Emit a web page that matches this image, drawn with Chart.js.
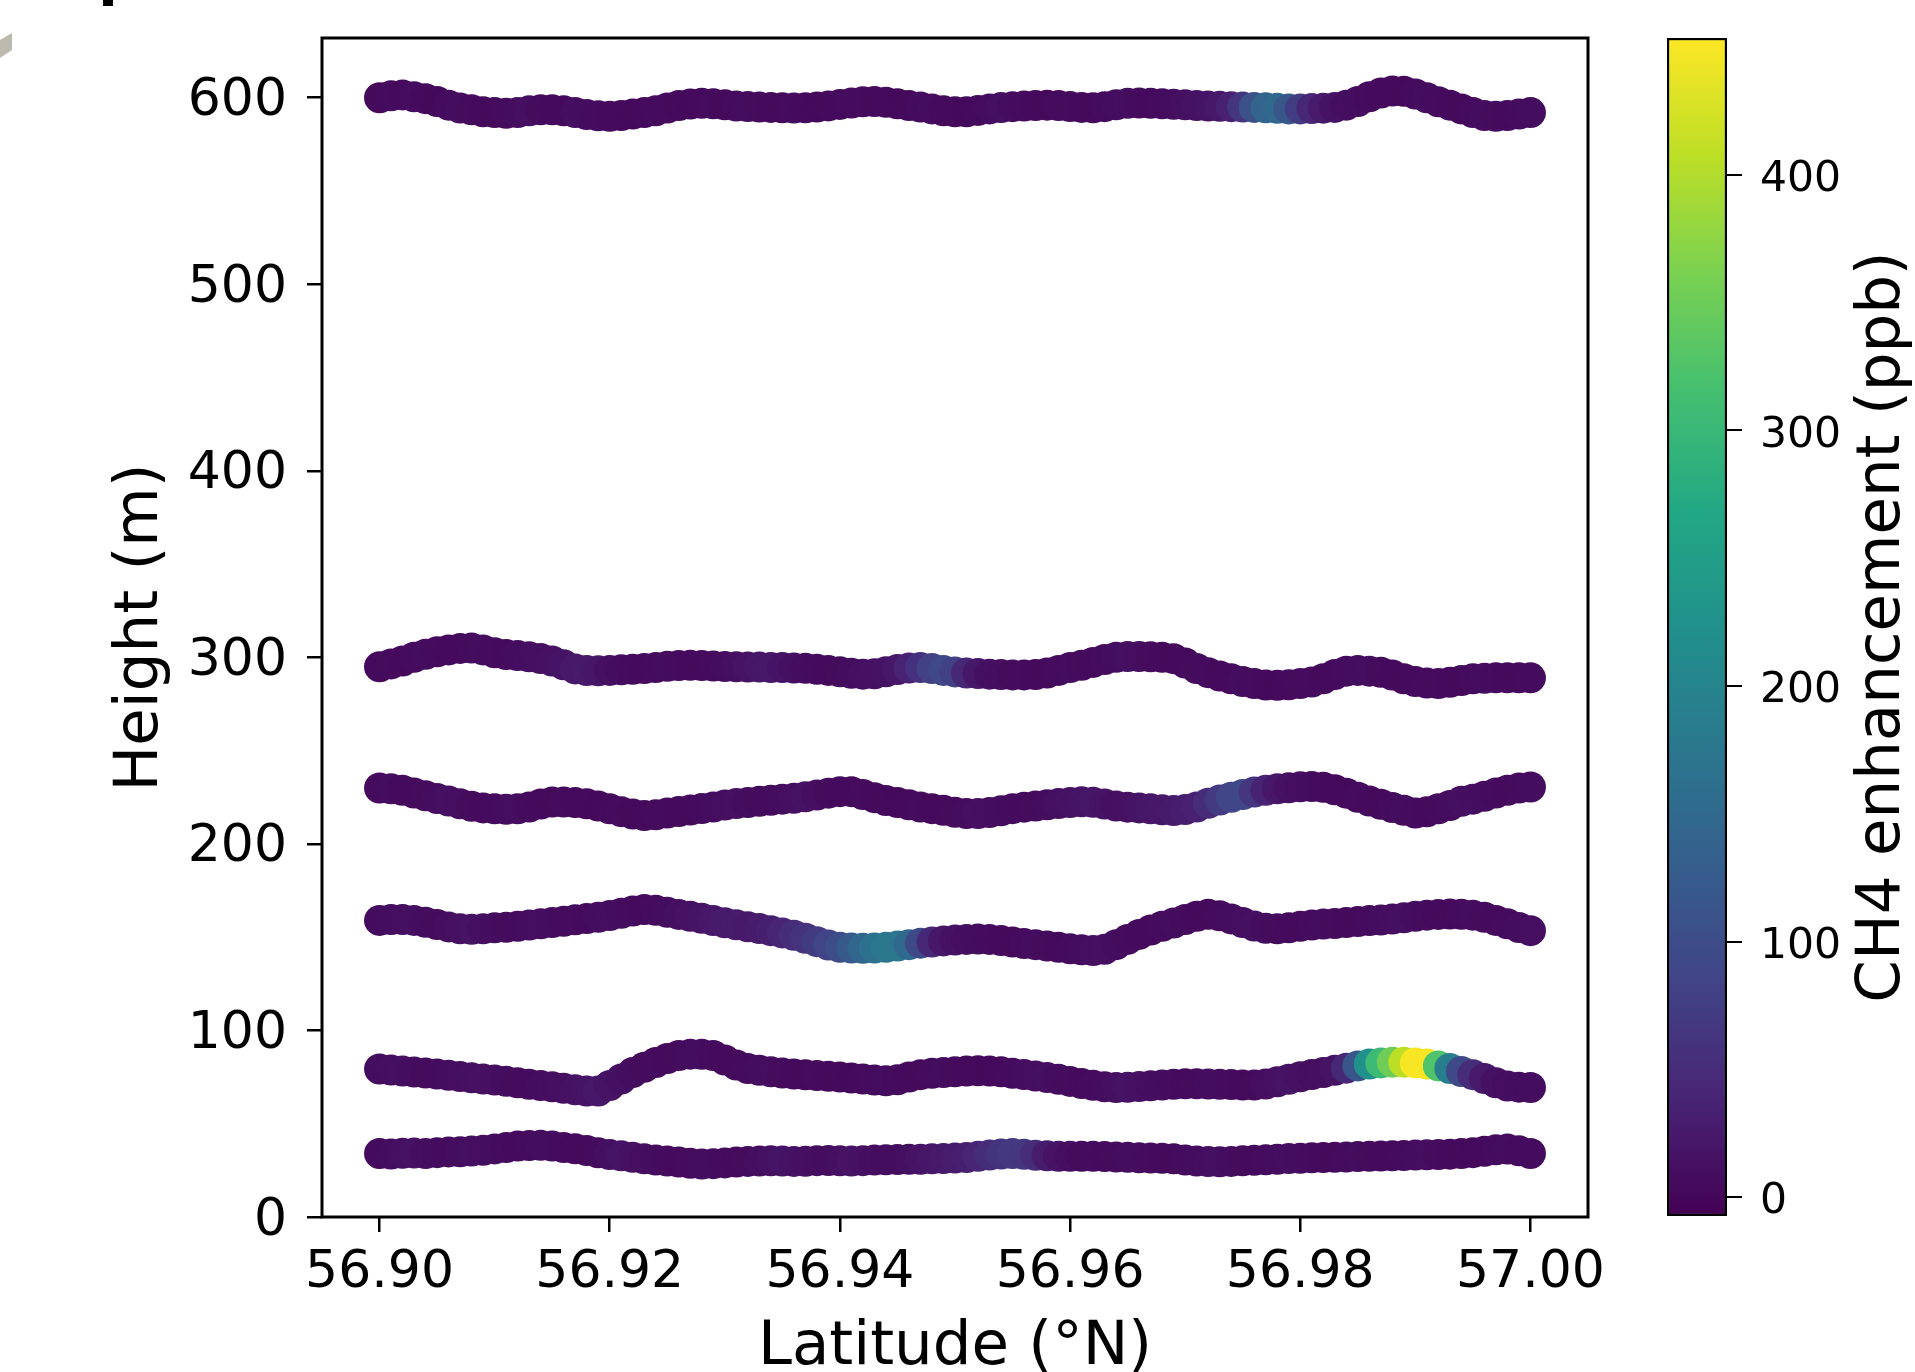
<!DOCTYPE html>
<html>
<head>
<meta charset="utf-8">
<script src="https://cdn.jsdelivr.net/npm/chart.js@4.4.0/dist/chart.umd.min.js"></script>
<style>
html,body{margin:0;padding:0;background:#fff;overflow:hidden}
#wrap{position:relative;width:1915px;height:1372px}
#main{position:absolute;left:0;top:0}
#cbar{position:absolute;left:1640px;top:0}
</style>
</head>
<body>
<div id="wrap">
<canvas id="main" width="1640" height="1372"></canvas>
<canvas id="cbar" width="275" height="1372"></canvas>
</div>
<script>
// sample latitudes along each flight leg (°N)
const lats = [56.900,56.901,56.902,56.903,56.904,56.905,56.906,56.907,56.908,56.909,
  56.910,56.911,56.912,56.913,56.914,56.915,56.916,56.917,56.918,56.919,
  56.920,56.921,56.922,56.923,56.924,56.925,56.926,56.927,56.928,56.929,
  56.930,56.931,56.932,56.933,56.934,56.935,56.936,56.937,56.938,56.939,
  56.940,56.941,56.942,56.943,56.944,56.945,56.946,56.947,56.948,56.949,
  56.950,56.951,56.952,56.953,56.954,56.955,56.956,56.957,56.958,56.959,
  56.960,56.961,56.962,56.963,56.964,56.965,56.966,56.967,56.968,56.969,
  56.970,56.971,56.972,56.973,56.974,56.975,56.976,56.977,56.978,56.979,
  56.980,56.981,56.982,56.983,56.984,56.985,56.986,56.987,56.988,56.989,
  56.990,56.991,56.992,56.993,56.994,56.995,56.996,56.997,56.998,56.999,57.000];

// heights (m)
const h600 = [600,601,601.5,600.5,599.5,598,596,594.5,593.5,592.5,
  592,591.7,592,593,593.5,593.5,593,592,591,590.3,
  590,590.5,591.3,592,593,594.5,595.8,596.6,597,596.8,
  596.2,595.5,595.3,595,594.8,594.6,594.5,594.6,595,595.6,
  596.4,597.2,597.8,598,597.6,596.8,595.8,595,594,593,
  592.5,592.5,593.2,594,594.7,595.2,595.5,595.8,596,595.8,
  595.3,594.8,594.6,595.2,596.2,597,597.2,597,596.8,596.5,
  596.2,595.8,595.5,595.4,595.2,595,594.8,594.6,594.3,594,
  594,594.2,594.4,594.8,596,598,600.5,602.5,603.6,603.5,
  602,600,597.8,596,594,592,590.5,590,590.5,591.3,592];
const h295 = [295,296.5,298,300,301.7,303,304,304.8,305,304,
  302.5,301.5,301,300.3,299.4,298,296,293.8,292.9,292.8,
  293,293.3,293.6,294,294.6,295.2,295.6,295.8,295.6,295.3,
  295.1,294.9,294.8,294.8,294.6,294.5,294.3,294.1,293.6,293,
  292.3,291.5,291,291.2,292.3,293.5,294.3,294.5,294,293,
  292.2,291.6,291.3,291,290.8,290.6,290.6,290.8,291.6,293,
  294.5,295.8,297.3,298.8,300,300.5,300.5,300.3,300,299.3,
  297,294,291.8,290,288.5,287,286,285.2,285,285.3,
  286,286.8,288.5,290.8,292.6,293,292.6,292,290.5,288.5,
  287,286.2,286,286.6,287.6,288.5,288.8,289,289,289,289];
const h225 = [230,229.5,228.7,227.3,225.8,224.3,223,221.5,220.2,219.3,
  218.8,218.6,218.8,219.8,221.4,222.4,222.5,222.2,221.5,220.3,
  218.8,217.3,216,215.2,215.6,216.5,217.4,218.2,219,219.8,
  220.8,221.6,222.2,222.8,223.4,224,224.5,225.3,226.2,227.2,
  228,228,226.5,224.8,223.3,222.2,221,219.8,218.9,218,
  217,216.3,216.3,216.8,217.8,218.9,219.7,220.3,221,221.6,
  222.2,222.6,222.3,221.4,220.3,219.7,219.3,218.8,218.3,217.9,
  218.4,219.8,221.8,223.5,225,226.5,227.8,228.7,229.5,230.1,
  230.6,230.8,230.4,229,227.2,225,223,221.2,219.5,218,
  216.6,217.2,218.8,220.6,222.8,224,225.5,227.3,228.8,230,230.5];
const h155 = [159,159.5,159.5,159,158,156.8,155.5,154.5,154.2,154.5,
  155,155.3,155.8,156.5,157.2,157.8,158.5,159.3,160,160.7,
  161.6,162.8,164,164.8,164.4,163.3,162.2,161.2,160.1,158.9,
  157.7,156.6,155.6,154.6,153.5,152.3,151,149.4,147.6,145.8,
  144.6,144.2,144,144.2,144.6,145.3,146,146.8,147.4,148,
  148.5,148.8,149,148.8,148.2,147.4,146.6,146,145.3,144.6,
  143.8,143.2,142.8,143.5,146,148.8,151.5,153.8,155.8,157.6,
  159.5,161.2,162.3,161.5,159.8,157.8,156,154.8,154.5,155,
  155.8,156.5,157,157.3,157.8,158.4,158.9,159.2,159.7,160.4,
  161.2,161.8,162.2,162.4,162.3,161.8,160.7,159,157.2,155.2,153.5];
const h75 = [79.3,78.8,78.3,77.7,77.2,76.6,76,75.3,74.6,74,
  73.4,72.8,72,71.2,70.5,69.8,69,68.2,67.5,67.5,
  70.5,74,77.5,80.3,82.8,85,86.6,87.3,87.2,86.6,
  84.2,81.5,79.6,78.6,77.8,77.2,76.6,76.2,75.8,75.4,
  75,74.5,74,73.4,73,73.6,75,76.3,77,77.5,
  77.9,78.2,78.4,78.3,77.8,77.1,76.4,75.6,74.8,73.8,
  72.7,71.6,70.6,69.8,69.4,69.5,69.9,70.4,70.8,71.2,
  71.4,71.4,71.3,71.1,71,70.8,70.8,71.3,72.5,73.8,
  75.2,76.4,77.5,78.6,79.8,81,82,82.6,83,83,
  82.6,82,81,79.6,78,76.3,74.2,72,70.2,69.6,69.4];
const h33 = [34,33.8,34.2,34.3,34,34.5,34.9,35,35.4,35.8,
  36.5,37.3,38,38.3,38.5,38,37.2,36.6,35.6,34.4,
  33.5,32.8,32,31.2,30.5,30,29.5,28.8,28.4,28.6,
  29,29.5,29.8,30,30.1,30,29.8,29.9,30.2,30.3,
  30.1,30,30.2,30.5,30.7,30.8,30.9,31,31.2,31.4,
  31.6,31.9,32.5,33.2,33.8,34,33.6,33.1,32.8,32.6,
  32.5,32.6,32.6,32.4,32.2,32,31.8,31.6,31.5,31.2,
  30.6,30,29.7,29.6,29.8,30.1,30.4,30.7,31,31.3,
  31.5,31.7,31.9,32,32.2,32.4,32.5,32.7,32.8,33,
  33.2,33.4,33.5,33.7,34,34.5,35.2,36,36.4,35.5,34];

// CH4 enhancement (ppb)
const c600 = [4,6,5,8,5,3,6,9,7,5, 4,6,8,12,7,5,4,10,8,6, 5,4,3,5,7,6,4,3,5,6,
  4,6,9,7,5,4,6,5,3,4, 5,7,6,4,5,3,4,6,8,5, 4,3,5,8,12,9,6,5,4,6,
  7,5,4,6,8,10,7,5,6,9, 12,15,18,22,35,65,105,140,150,115, 75,45,25,15,10,8,6,5,5,4,
  6,8,7,5,4,6,9,7,5,6,8];
const c295 = [5,7,4,6,9,6,5,4,7,8, 6,5,8,10,12,14,18,24,26,20, 12,8,6,5,7,9,6,5,4,6,
  8,12,16,20,22,18,12,8,6,5, 7,9,12,14,15,22,38,58,80,92, 80,45,22,12,10,7,6,5,4,6,
  8,7,5,6,9,12,10,7,5,4, 5,7,6,4,5,8,6,4,3,5, 7,6,4,5,6,8,10,7,5,4,
  5,6,7,5,4,6,8,6,5,4,6];
const c225 = [6,8,5,4,7,9,12,10,7,5, 6,8,10,7,5,4,6,5,4,3, 5,6,4,5,7,6,5,4,6,8,
  10,12,9,7,6,8,12,15,10,7, 5,4,6,5,4,3,5,6,4,5, 7,9,12,10,8,6,5,7,9,12,
  15,18,20,16,12,14,18,20,22,25, 30,35,50,70,88,90,65,38,22,14, 10,8,6,5,4,6,5,4,6,8,
  6,5,7,9,12,10,8,6,5,7,9];
const c155 = [6,8,10,12,9,7,10,14,16,12, 9,7,6,8,10,9,7,6,5,8, 10,8,6,5,7,9,12,15,18,22,
  25,28,24,28,32,40,50,60,72,85, 100,120,145,165,175,175,150,95,45,22, 14,10,8,6,5,4,6,8,7,5,
  6,8,10,12,9,7,5,4,6,8, 7,5,4,6,8,10,12,9,7,5, 4,6,8,7,5,4,6,8,10,12,
  9,7,5,4,6,8,7,5,6,8,10];
const c75 = [8,10,12,9,7,6,8,10,12,14, 11,9,7,6,8,10,12,15,18,22, 16,12,9,7,6,5,7,9,8,6,
  5,4,6,8,10,7,5,4,6,5, 4,3,5,6,8,7,5,4,6,8, 7,5,4,3,5,6,8,10,12,9,
  7,5,6,8,12,16,14,10,8,6, 5,7,9,8,6,5,7,10,14,18, 14,10,12,16,45,115,223,306,352,407,
  450,450,325,186,94,50,25,14,10,8,8];
const c33 = [6,9,12,15,10,8,6,9,12,10, 8,6,5,7,9,8,6,5,4,6, 12,18,14,10,8,6,5,7,9,8,
  6,5,7,10,14,18,15,12,10,8, 12,16,14,10,8,9,12,16,20,24, 28,32,40,52,62,68,66,50,28,16,
  10,7,6,5,7,9,8,6,5,4, 6,8,10,12,9,7,5,6,8,10, 8,6,5,4,6,8,7,5,4,6,
  8,10,7,5,4,3,5,6,8,7,6];

const legs = [
  {h: h600, c: c600},
  {h: h295, c: c295},
  {h: h225, c: c225},
  {h: h155, c: c155},
  {h: h75, c: c75},
  {h: h33, c: c33},
];

const CB_MIN = -7.4, CB_MAX = 453.6;
const cbTicks = [0, 100, 200, 300, 400];

const viridis = [[68,1,84],[72,36,117],[65,68,135],[53,95,141],[42,120,142],
  [33,145,140],[34,168,132],[68,191,112],[122,209,81],[189,223,38],[253,231,37]];

function cmap(v){
  let t = (v - CB_MIN) / (CB_MAX - CB_MIN);
  t = Math.max(0, Math.min(1, t)) * 10;
  const i = Math.min(9, Math.floor(t));
  const f = t - i;
  const a = viridis[i], b = viridis[i+1];
  const r = Math.round(a[0] + (b[0]-a[0])*f);
  const g = Math.round(a[1] + (b[1]-a[1])*f);
  const bl = Math.round(a[2] + (b[2]-a[2])*f);
  return 'rgb(' + r + ',' + g + ',' + bl + ')';
}

Chart.defaults.font.family = 'DejaVu Sans';
Chart.defaults.color = '#000';

// box round the axes, like matplotlib spines
const frame = {
  id: 'frame',
  afterDraw(chart){
    const {ctx, chartArea: a} = chart;
    ctx.save();
    ctx.strokeStyle = '#000';
    ctx.lineWidth = 3;
    ctx.strokeRect(a.left, a.top, a.right - a.left, a.bottom - a.top);
    // bits of the neighbouring panel cut off in the source picture
    ctx.fillStyle = '#bcb9ae';
    ctx.beginPath();
    ctx.moveTo(0, 40); ctx.lineTo(12, 33); ctx.lineTo(12, 50); ctx.lineTo(0, 58);
    ctx.closePath(); ctx.fill();
    ctx.fillStyle = '#000';
    ctx.fillRect(103, 0, 10, 6);
    ctx.restore();
  }
};

function noPad(s){ s.paddingTop = 0; s.paddingBottom = 0; s.paddingLeft = 0; s.paddingRight = 0; }

new Chart(document.getElementById('main'), {
  type: 'scatter',
  data: {
    datasets: legs.map(l => ({
      data: lats.map((x, i) => ({x: x, y: l.h[i]})),
      pointBackgroundColor: l.c.map(cmap),
      pointRadius: 15.5,
      pointHoverRadius: 15.5,
      pointBorderWidth: 0,
      borderWidth: 0,
    }))
  },
  options: {
    responsive: false,
    animation: false,
    devicePixelRatio: 1,
    events: [],
    layout: {padding: {left: 0, top: 38, right: 52, bottom: 0}},
    plugins: {legend: {display: false}, tooltip: {enabled: false}},
    scales: {
      x: {
        type: 'linear',
        min: 56.895,
        max: 57.005,
        afterFit: s => { s.height = 155; noPad(s); },
        ticks: {
          stepSize: 0.02,
          includeBounds: false,
          autoSkip: false,
          maxRotation: 0,
          padding: 10,
          font: {size: 52},
          callback: v => v.toFixed(2),
        },
        grid: {drawOnChartArea: false, drawTicks: true, tickLength: 15, color: '#000', lineWidth: 2.5},
        border: {display: false},
        title: {display: true, text: 'Latitude (°N)', font: {size: 61, lineHeight: 0.79}, padding: 0},
      },
      y: {
        min: 0,
        max: 632,
        afterFit: s => { s.width = 322; noPad(s); },
        ticks: {
          stepSize: 100,
          includeBounds: false,
          padding: 20,
          labelOffset: 4,
          font: {size: 52},
        },
        grid: {drawOnChartArea: false, drawTicks: true, tickLength: 15, color: '#000', lineWidth: 2.5},
        border: {display: false},
        title: {display: true, text: 'Height (m)', font: {size: 61, lineHeight: 1}, padding: {top: 110.5, bottom: 0}},
      }
    }
  },
  plugins: [frame]
});

// colorbar label reads bottom to top, as in matplotlib
const cbLabel = {
  id: 'cbLabel',
  afterDraw(chart){
    const ctx = chart.ctx;
    const y = chart.scales.y;
    ctx.save();
    ctx.translate(243, (y.top + y.bottom) / 2);
    ctx.rotate(-Math.PI / 2);
    ctx.font = '61px "DejaVu Sans"';
    ctx.fillStyle = '#000';
    ctx.textAlign = 'center';
    ctx.textBaseline = 'middle';
    ctx.fillText('CH4 enhancement (ppb)', 0, 0);
    ctx.restore();
  }
};

new Chart(document.getElementById('cbar'), {
  type: 'bar',
  data: {
    labels: [''],
    datasets: [{
      data: [[CB_MIN, CB_MAX]],
      backgroundColor: ctx => {
        const chart = ctx.chart;
        const ys = chart.scales.y;
        const fallback = 'rgb(68,1,84)';
        if (!ys) return fallback;
        const y0 = ys.getPixelForValue(CB_MIN), y1 = ys.getPixelForValue(CB_MAX);
        if (!isFinite(y0) || !isFinite(y1)) return fallback;
        const g = chart.ctx.createLinearGradient(0, y0, 0, y1);
        viridis.forEach((c, i) => g.addColorStop(i / 10, 'rgb(' + c.join(',') + ')'));
        return g;
      },
      borderColor: '#000',
      borderWidth: 2.5,
      borderSkipped: false,
      categoryPercentage: 1,
      barPercentage: 1,
    }]
  },
  options: {
    responsive: false,
    animation: false,
    devicePixelRatio: 1,
    events: [],
    layout: {padding: {left: 27, top: 38, right: 0, bottom: 156}},
    plugins: {legend: {display: false}, tooltip: {enabled: false}},
    scales: {
      x: {display: false},
      y: {
        position: 'right',
        min: CB_MIN,
        max: CB_MAX,
        afterFit: s => { s.width = 188; noPad(s); },
        afterBuildTicks: s => { s.ticks = cbTicks.map(v => ({value: v})); },
        ticks: {padding: 18, labelOffset: 5, font: {size: 42.5}},
        grid: {drawOnChartArea: false, drawTicks: true, tickLength: 15, color: '#000', lineWidth: 2},
        border: {display: false},
      }
    }
  },
  plugins: [cbLabel]
});
</script>
</body>
</html>
